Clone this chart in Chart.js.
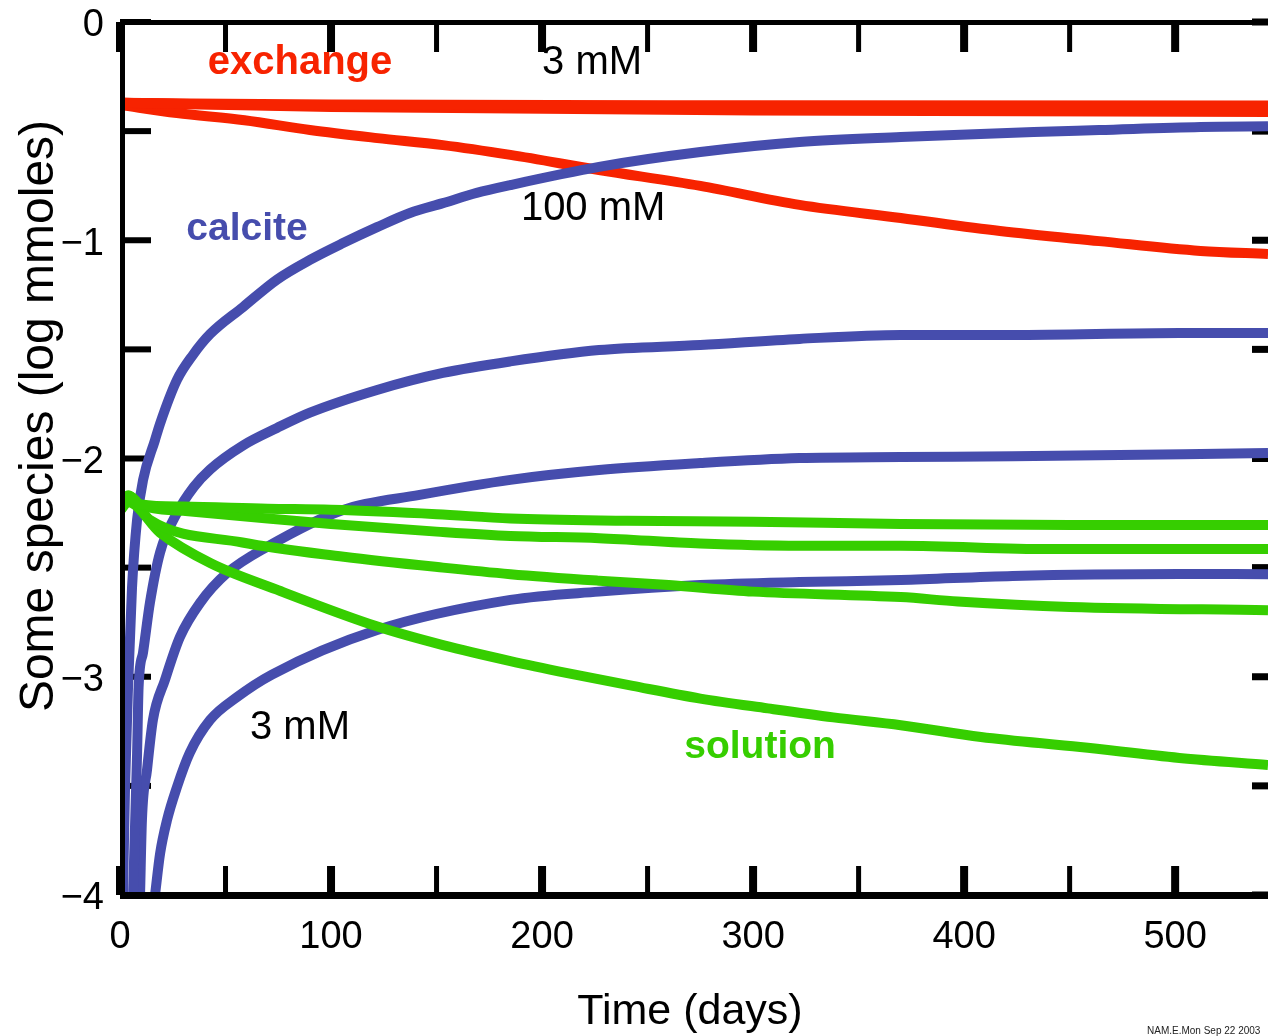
<!DOCTYPE html>
<html>
<head>
<meta charset="utf-8">
<script src="https://cdn.jsdelivr.net/npm/chart.js@4.4.1/dist/chart.umd.min.js"></script>
<style>
    html, body { margin: 0; padding: 0; background: #fff; }
</style>
</head>
<body>
<canvas id="chartEspecies" width="1268" height="1036"></canvas>
<script>
// ─────────────────────────────────────────────────────────────────────────────
// DATOS  (día, log mmoles)
// ─────────────────────────────────────────────────────────────────────────────
const exchange3mM   = [[0, -0.37], [100, -0.378], [300, -0.382], [544, -0.383]];
const exchange10mM  = [[0, -0.37], [100, -0.385], [300, -0.393], [544, -0.397]];
const exchange30mM  = [[0, -0.37], [100, -0.39], [300, -0.405], [544, -0.412]];
const exchange100mM = [[0, -0.38], [27, -0.417], [59, -0.45], [90, -0.495], [122, -0.532],
    [153, -0.564], [185, -0.609], [227, -0.678], [275, -0.751], [322, -0.838], [370, -0.898],
    [417, -0.958], [464, -1.004], [512, -1.049], [544, -1.063]];

const calcite100mM = [[1.4, -4.0], [2.4, -3.5], [3.8, -3.05], [5.7, -2.59], [8.1, -2.28],
    [10.9, -2.10], [16.6, -1.915], [19, -1.84], [27, -1.64], [34.6, -1.525], [42.7, -1.43],
    [58.3, -1.306], [74.4, -1.18], [90, -1.09], [105.7, -1.013], [121.8, -0.94], [137.4, -0.875],
    [153, -0.83], [169, -0.783], [185, -0.747], [227, -0.664], [275, -0.596], [322, -0.55],
    [370, -0.527], [433, -0.504], [464, -0.495], [512, -0.481], [544, -0.478]];
const calcite30mM = [[6.2, -4.0], [7.1, -3.69], [8.1, -3.35], [8.8, -3.05], [10.9, -2.89],
    [14.2, -2.66], [19, -2.43], [27, -2.25], [35, -2.13], [42.7, -2.05], [58.3, -1.94],
    [74.4, -1.86], [90, -1.79], [121.8, -1.686], [153, -1.608], [185, -1.555], [227, -1.503],
    [275, -1.48], [322, -1.452], [370, -1.434], [423, -1.434], [502, -1.425], [544, -1.425]];
const calcite10mM = [[9.5, -4.0], [10.4, -3.656], [12.8, -3.427], [15.6, -3.198], [21.3, -3.015],
    [28.4, -2.818], [37.9, -2.662], [50.7, -2.525], [69.7, -2.405], [105.7, -2.236], [142, -2.167],
    [185, -2.098], [227, -2.053], [275, -2.021], [322, -1.998], [370, -1.993], [423, -1.99],
    [544, -1.975]];
const calcite3mM = [[16.6, -4.0], [19, -3.81], [22.3, -3.656], [27, -3.505], [33, -3.35],
    [42.7, -3.198], [55.5, -3.093], [72, -2.99], [121.8, -2.786], [185, -2.648], [227, -2.61],
    [275, -2.58], [322, -2.566], [370, -2.557], [423, -2.538], [502, -2.529], [544, -2.53]];

const solution3mM = [[0, -2.24], [4, -2.17], [10, -2.21], [30, -2.22], [70, -2.23], [100, -2.235],
    [150, -2.255], [185, -2.275], [240, -2.285], [300, -2.29], [370, -2.30], [450, -2.305],
    [544, -2.305]];
const solution10mM = [[0, -2.24], [4, -2.17], [10, -2.215], [30, -2.24], [70, -2.275], [100, -2.30],
    [150, -2.335], [185, -2.355], [227, -2.365], [275, -2.39], [322, -2.40], [370, -2.40],
    [440, -2.415], [544, -2.415]];
const solution30mM = [[0, -2.24], [4, -2.18], [14, -2.28], [58, -2.385], [106, -2.45], [153, -2.50],
    [185, -2.53], [227, -2.56], [260, -2.58], [300, -2.61], [370, -2.635], [397, -2.655],
    [450, -2.68], [544, -2.695]];
const solution100mM = [[0, -2.24], [4, -2.2], [19, -2.34], [43, -2.48], [74, -2.60], [122, -2.77],
    [153, -2.855], [185, -2.928], [212, -2.983], [243, -3.042], [275, -3.1], [307, -3.145],
    [338, -3.186], [370, -3.222], [408, -3.276], [455, -3.322], [502, -3.372], [544, -3.404]];

// ejes
const xTickDays   = [0, 50, 100, 150, 200, 250, 300, 350, 400, 450, 500];
const xLabelDays  = [0, 100, 200, 300, 400, 500];
const xLabelTexts = ['0', '100', '200', '300', '400', '500'];
const yTickVals   = [0, -0.5, -1, -1.5, -2, -2.5, -3, -3.5, -4];
const yLabelVals  = [0, -1, -2, -3, -4];
const yLabelTexts = ['0', '\u22121', '\u22122', '\u22123', '\u22124'];

// textos sobre la gráfica (día, valor)
const notaTextos = ['exchange', '3 mM', '100 mM', 'calcite', '3 mM', 'solution'];
const notaDias   = [85.3, 223.7, 224.2, 60.2, 85.3, 303.3];
const notaValores = [-0.19, -0.19, -0.856, -0.948, -3.235, -3.325];

// ─────────────────────────────────────────────────────────────────────────────
// ESTILOS
// ─────────────────────────────────────────────────────────────────────────────
const ROJO  = '#f72300';
const AZUL  = '#464dad';
const VERDE = '#36ce00';
const FUENTE = '"Liberation Sans", Arial, Helvetica, sans-serif';
const notaEstilos = [
    { color: ROJO,  font: 'bold 40px ' + FUENTE },
    { color: '#000', font: '40px ' + FUENTE },
    { color: '#000', font: '40px ' + FUENTE },
    { color: AZUL,  font: 'bold 39px ' + FUENTE },
    { color: '#000', font: '40px ' + FUENTE },
    { color: VERDE, font: 'bold 39px ' + FUENTE }
];

function serie(pares, color) {
    return {
        data: pares.map(function (p) { return { x: p[0], y: p[1] }; }),
        borderColor: color,
        borderWidth: 10,
        pointRadius: 0,
        fill: false,
        cubicInterpolationMode: 'monotone',
        clip: 0
    };
}

// ─────────────────────────────────────────────────────────────────────────────
// EJES A MANO (ticks hacia dentro, marco, etiquetas)
// ─────────────────────────────────────────────────────────────────────────────
const ejesPlugin = {
    id: 'ejesPropios',
    beforeDatasetsDraw: function (chart) {
        const ctx = chart.ctx;
        const a = chart.chartArea;
        const sx = chart.scales.x, sy = chart.scales.y;
        ctx.save();
        ctx.fillStyle = '#000';
        xTickDays.forEach(function (d) {
            const px = sx.getPixelForValue(d);
            const w = (d % 100 === 0) ? 8 : 5;
            ctx.fillRect(px - w / 2, a.top, w, 30);
            ctx.fillRect(px - w / 2, a.bottom - 29, w, 29);
        });
        yTickVals.forEach(function (v) {
            const py = sy.getPixelForValue(v);
            ctx.fillRect(a.left, py - 3, 31, 6);
            ctx.fillRect(a.right - 16, py - 3.5, 16, 7);
        });
        ctx.restore();
    },
    afterDatasetsDraw: function (chart) {
        const ctx = chart.ctx;
        const a = chart.chartArea;
        const sx = chart.scales.x, sy = chart.scales.y;
        ctx.save();
        // marco
        ctx.fillStyle = '#000';
        ctx.fillRect(a.left, a.top - 2, a.right - a.left, 5);
        ctx.fillRect(a.left, a.top - 2, 5, a.bottom - a.top + 5);
        ctx.fillRect(a.left, a.bottom - 3, a.right - a.left, 7);

        // etiquetas de ticks
        ctx.font = '38px ' + FUENTE;
        ctx.textBaseline = 'middle';
        ctx.textAlign = 'center';
        xLabelDays.forEach(function (d, i) {
            ctx.fillText(xLabelTexts[i], sx.getPixelForValue(d), a.bottom + 43);
        });
        ctx.textAlign = 'right';
        yLabelVals.forEach(function (v, i) {
            ctx.fillText(yLabelTexts[i], a.left - 16, sy.getPixelForValue(v) + 4);
        });

        // títulos
        ctx.font = '43px ' + FUENTE;
        ctx.textAlign = 'center';
        ctx.fillText('Time (days)', (sx.getPixelForValue(0) + sx.getPixelForValue(544)) / 2 - 4, 1012);
        ctx.save();
        ctx.translate(53, 416);
        ctx.rotate(-Math.PI / 2);
        ctx.font = '48px ' + FUENTE;
        ctx.textBaseline = 'alphabetic';
        ctx.fillText('Some species (log mmoles)', 0, 0);
        ctx.restore();

        // notas
        ctx.textBaseline = 'middle';
        ctx.textAlign = 'center';
        notaTextos.forEach(function (t, i) {
            ctx.fillStyle = notaEstilos[i].color;
            ctx.font = notaEstilos[i].font;
            ctx.fillText(t, sx.getPixelForValue(notaDias[i]), sy.getPixelForValue(notaValores[i]));
        });

        // pie
        ctx.fillStyle = '#222';
        ctx.font = '10px ' + FUENTE;
        ctx.textAlign = 'left';
        ctx.fillText('NAM.E.Mon Sep 22 2003', 1147, 1031);
        ctx.restore();
    }
};

// ─────────────────────────────────────────────────────────────────────────────
// GRÁFICO
// ─────────────────────────────────────────────────────────────────────────────
const grafico = new Chart(document.getElementById('chartEspecies').getContext('2d'), {
    type: 'line',
    data: {
        datasets: [
            serie(solution3mM, VERDE),
            serie(solution10mM, VERDE),
            serie(solution30mM, VERDE),
            serie(solution100mM, VERDE),
            serie(calcite100mM, AZUL),
            serie(calcite30mM, AZUL),
            serie(calcite10mM, AZUL),
            serie(calcite3mM, AZUL),
            serie(exchange3mM, ROJO),
            serie(exchange10mM, ROJO),
            serie(exchange30mM, ROJO),
            serie(exchange100mM, ROJO)
        ]
    },
    options: {
        responsive: false,
        animation: false,
        devicePixelRatio: 1,
        layout: { padding: { left: 120, top: 22, right: 0, bottom: 141 } },
        plugins: { legend: { display: false }, tooltip: { enabled: false } },
        scales: {
            x: { type: 'linear', min: 0, max: 544, display: false },
            y: { type: 'linear', min: -4, max: 0, display: false }
        }
    },
    plugins: [ejesPlugin]
});
</script>
</body>
</html>
